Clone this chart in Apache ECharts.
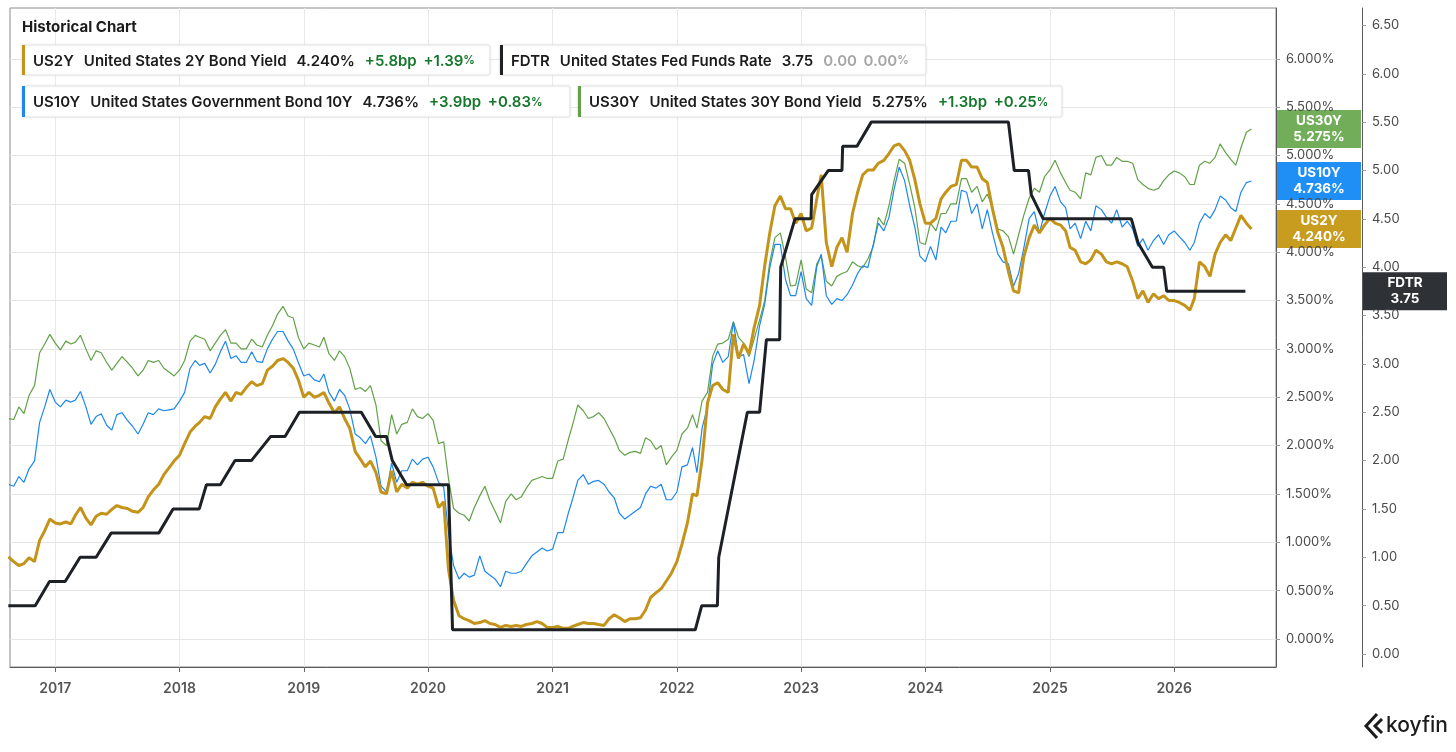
<!DOCTYPE html>
<html>
<head>
<meta charset="utf-8">
<script src="https://cdn.jsdelivr.net/npm/echarts@6/dist/echarts.min.js"></script>
<style>
html,body{margin:0;padding:0;background:#fff;}
#chart{width:1456px;height:752px;}
</style>
</head>
<body>
<div id="chart"></div>
<script>
// ---- DATA (semi-monthly observations: 16th and 1st of each month, from 2016-08-16) ----
const us2y = [
  0.85,0.80,0.76,0.78,0.84,0.80,1.02,1.12,1.24,
  1.20,1.19,1.21,1.19,1.28,1.36,1.25,1.18,1.27,1.30,1.29,1.34,1.38,1.36,1.35,1.32,1.31,1.36,1.47,1.54,1.60,1.70,1.77,1.84,
  1.90,2.02,2.14,2.20,2.24,2.30,2.28,2.40,2.48,2.55,2.46,2.55,2.53,2.60,2.66,2.62,2.64,2.78,2.82,2.88,2.90,2.86,2.80,2.68,
  2.50,2.55,2.50,2.52,2.55,2.44,2.34,2.40,2.28,2.18,1.94,1.86,1.78,1.84,1.72,1.52,1.50,1.74,1.52,1.60,1.56,1.62,1.60,1.62,
  1.58,1.56,1.36,1.42,0.72,0.40,0.24,0.21,0.19,0.16,0.17,0.19,0.16,0.15,0.12,0.14,0.13,0.14,0.13,0.15,0.16,0.18,0.16,0.12,
  0.12,0.13,0.11,0.11,0.13,0.15,0.17,0.16,0.16,0.15,0.14,0.21,0.25,0.22,0.18,0.21,0.21,0.22,0.30,0.43,0.48,0.52,0.60,0.68,
  0.80,0.98,1.20,1.50,1.48,1.85,2.44,2.62,2.65,2.58,2.55,3.15,2.90,3.05,2.95,3.22,3.45,3.86,4.20,4.48,4.58,4.45,4.45,4.30,
  4.40,4.22,4.25,4.55,4.80,4.10,3.85,4.05,4.15,4.00,4.40,4.62,4.80,4.85,4.85,4.92,4.95,5.02,5.10,5.12,5.05,4.95,4.75,4.50,
  4.30,4.30,4.35,4.55,4.62,4.68,4.70,4.95,4.95,4.88,4.88,4.76,4.72,4.45,4.20,4.05,3.80,3.60,3.58,3.95,4.15,4.28,4.20,4.28,
  4.35,4.30,4.28,4.22,4.05,4.02,3.90,3.88,3.92,4.02,3.98,3.90,3.88,3.90,3.88,3.85,3.70,3.52,3.60,3.48,3.57,3.52,3.55,3.50,
  3.50,3.48,3.45,3.40,3.52,3.90,3.85,3.75,3.98,4.10,4.18,4.12,4.25,4.38,4.30,4.240
];
const us10y = [
  1.60,1.58,1.68,1.62,1.76,1.84,2.24,2.40,2.58,
  2.45,2.40,2.47,2.45,2.47,2.56,2.40,2.22,2.30,2.33,2.21,2.16,2.32,2.34,2.26,2.20,2.12,2.22,2.34,2.32,2.38,2.36,2.37,2.38,
  2.46,2.55,2.80,2.88,2.83,2.85,2.75,2.84,2.97,3.08,2.90,2.93,2.86,2.86,2.97,2.87,2.86,3.00,3.10,3.18,3.18,3.08,3.00,2.86,
  2.72,2.74,2.68,2.66,2.74,2.55,2.46,2.58,2.52,2.38,2.12,2.08,2.02,2.10,1.88,1.58,1.52,1.82,1.62,1.74,1.74,1.86,1.80,1.86,
  1.88,1.78,1.62,1.57,1.10,0.76,0.62,0.68,0.64,0.66,0.86,0.70,0.66,0.62,0.54,0.70,0.68,0.68,0.70,0.78,0.86,0.90,0.94,0.91,
  0.93,1.10,1.10,1.30,1.45,1.64,1.70,1.60,1.63,1.64,1.60,1.52,1.46,1.30,1.24,1.28,1.32,1.36,1.50,1.58,1.56,1.60,1.44,1.44,
  1.52,1.78,1.80,1.98,1.72,2.18,2.40,2.84,2.98,2.86,2.92,3.28,2.92,2.94,2.64,2.88,3.24,3.46,3.84,4.08,4.08,3.72,3.55,3.55,
  3.80,3.52,3.45,3.85,3.98,3.55,3.46,3.52,3.50,3.56,3.66,3.78,3.86,3.84,4.08,4.30,4.22,4.36,4.65,4.88,4.74,4.48,4.26,3.96,
  3.90,4.06,3.92,4.26,4.20,4.32,4.32,4.64,4.62,4.40,4.50,4.24,4.44,4.20,3.98,3.90,3.88,3.65,3.78,4.04,4.35,4.42,4.20,4.40,
  4.58,4.68,4.52,4.46,4.24,4.30,4.14,4.32,4.22,4.48,4.44,4.36,4.30,4.44,4.26,4.32,4.24,4.06,4.14,4.02,4.12,4.18,4.08,4.18,
  4.22,4.16,4.10,4.02,4.10,4.30,4.40,4.35,4.44,4.58,4.54,4.46,4.42,4.62,4.72,4.736
];
const us30y = [
  2.28,2.27,2.40,2.33,2.52,2.62,2.96,3.05,3.15,
  3.06,2.99,3.08,3.05,3.07,3.14,3.00,2.88,2.98,2.96,2.86,2.78,2.85,2.92,2.86,2.80,2.72,2.78,2.88,2.86,2.88,2.80,2.76,2.72,
  2.78,2.88,3.08,3.14,3.12,3.10,2.98,3.06,3.14,3.20,3.06,3.06,3.00,3.00,3.10,3.04,3.02,3.14,3.24,3.36,3.44,3.34,3.32,3.12,
  3.00,3.06,3.04,3.02,3.12,2.95,2.88,2.98,2.92,2.80,2.58,2.60,2.56,2.62,2.42,2.05,2.00,2.32,2.12,2.22,2.24,2.38,2.30,2.28,
  2.33,2.26,2.02,2.04,1.66,1.35,1.30,1.28,1.22,1.36,1.48,1.58,1.43,1.32,1.20,1.42,1.50,1.44,1.47,1.56,1.64,1.66,1.68,1.66,
  1.66,1.84,1.86,2.06,2.22,2.42,2.36,2.28,2.30,2.34,2.28,2.18,2.08,1.95,1.90,1.93,1.94,1.92,2.08,2.05,1.96,2.00,1.80,1.88,
  1.95,2.12,2.18,2.32,2.18,2.46,2.55,2.92,3.05,3.06,3.10,3.28,3.12,3.06,2.92,3.10,3.30,3.50,3.90,4.15,4.20,3.95,3.65,3.66,
  3.92,3.62,3.58,3.88,3.96,3.70,3.65,3.75,3.78,3.80,3.90,3.86,3.84,3.93,4.06,4.36,4.28,4.48,4.74,4.96,4.92,4.70,4.46,4.10,
  4.08,4.30,4.22,4.40,4.40,4.50,4.50,4.76,4.76,4.62,4.68,4.52,4.60,4.46,4.24,4.22,4.16,3.98,4.18,4.38,4.56,4.66,4.62,4.78,
  4.85,4.95,4.82,4.72,4.64,4.62,4.55,4.82,4.80,4.98,5.00,4.90,4.90,4.98,4.94,4.94,4.92,4.75,4.70,4.66,4.64,4.66,4.74,4.80,
  4.84,4.82,4.78,4.70,4.70,4.90,4.94,4.92,4.98,5.12,5.03,4.96,4.90,5.08,5.24,5.275
];
// Fed funds (upper bound) change points
const fdtrDates = [
  '2016-08-16','2016-11-03','2016-12-15','2017-01-30','2017-03-15','2017-05-01','2017-06-14',
  '2017-11-01','2017-12-13','2018-02-28','2018-03-21','2018-05-01','2018-06-13','2018-07-31',
  '2018-09-26','2018-11-07','2018-12-19','2019-06-19','2019-07-31','2019-09-01','2019-09-18',
  '2019-10-30','2020-03-01','2020-03-13','2022-02-24','2022-03-15','2022-04-30','2022-05-04',
  '2022-07-27','2022-09-01','2022-09-21','2022-10-30','2022-11-02','2022-12-14','2023-01-30',
  '2023-02-01','2023-03-22','2023-05-01','2023-05-03','2023-06-14','2023-07-26','2024-09-01',
  '2024-09-18','2024-10-30','2024-11-07','2024-12-12','2025-08-28','2025-09-17','2025-10-29',
  '2025-12-01','2025-12-10','2026-07-29'
];
const fdtrValues = [
  0.50,0.50,0.75,0.75,1.00,1.00,1.25,
  1.25,1.50,1.50,1.75,1.75,2.00,2.00,
  2.25,2.25,2.50,2.50,2.25,2.25,2.00,
  1.75,1.75,0.25,0.25,0.50,0.50,1.00,
  2.50,2.50,3.25,3.25,4.00,4.50,4.50,
  4.75,5.00,5.00,5.25,5.25,5.50,5.50,
  5.00,5.00,4.75,4.50,4.50,4.25,4.00,
  4.00,3.75,3.75
];
const yearLabels = ['2017','2018','2019','2020','2021','2022','2023','2024','2025','2026'];
const pctTicks = [0,0.5,1,1.5,2,2.5,3,3.5,4,4.5,5,5.5,6];
const fdtrTicks = [0,0.5,1,1.5,2,2.5,3,3.5,4,4.5,5,5.5,6,6.5];

const seriesInfo = [
  {code:'US2Y', name:'United States 2Y Bond Yield', chg:'+5.8bp', pct:'+1.39'},
  {code:'FDTR', name:'United States Fed Funds Rate', chg:'0.00', pct:'0.00'},
  {code:'US10Y', name:'United States Government Bond 10Y', chg:'+3.9bp', pct:'+0.83'},
  {code:'US30Y', name:'United States 30Y Bond Yield', chg:'+1.3bp', pct:'+0.25'}
];

// ---- build ----
const ts = (s) => { const p = s.split('-').map(Number); return new Date(p[0], p[1]-1, p[2]).getTime(); };
const dates = [];
(function(){ let y=2016,m=8,d=16;
  while(dates.length < us2y.length){
    dates.push(y+'-'+String(m).padStart(2,'0')+'-'+String(d).padStart(2,'0'));
    if(d===1){d=16;} else {d=1;m++; if(m>12){m=1;y++;}}
  }})();
const zip = (ds, vs) => vs.map((v,i)=>[ts(ds[i]), v]);
const yearTicks = yearLabels.map(y => new Date(+y,0,1).getTime());

const C = {
  us2y:'#c39419', us2yBox:'#c89c1f',
  us10y:'#1d87ee', us10yBox:'#1f8ff5',
  us30y:'#62a148', us30yBox:'#72ae5a',
  fdtr:'#1d2126', fdtrBox:'#2e3136'
};
const FONT = 'Inter, "Noto Sans", Roboto, sans-serif';

const chart = echarts.init(document.getElementById('chart'), null, {renderer:'canvas'});

function legendBox(id, x, y, w, h, color, info, valueText, grey){
  const gc = grey ? '#a6a6a6' : '#15772b';
  const gStyle = {fill:gc, fontSize:15, fontWeight:600, fontFamily:FONT};
  const gsStyle = {fill:gc, fontSize:11.5, fontWeight:600, fontFamily:FONT};
  return {
    type:'group', id:id, x:x, y:y,
    children:[
      {type:'rect', shape:{x:0,y:0,width:w,height:h,r:2},
       style:{fill:'#fff', stroke:'#e4e4e4', lineWidth:1, shadowBlur:3, shadowColor:'rgba(0,0,0,0.08)'}},
      {type:'rect', shape:{x:0,y:0,width:3,height:h}, style:{fill:color}},
      {type:'text', x:11, y:h/2+1,
       style:{text:'{n|'+info.code+'}   {n|'+info.name+'}   {n|'+valueText+'}   {g|'+info.chg+'}  {g|'+info.pct+'}{gs|%}',
              verticalAlign:'middle', align:'left',
              rich:{n:{fill:'#1c1c1c', fontSize:15, fontWeight:600, fontFamily:FONT}, g:gStyle, gs:gsStyle}}}
    ]
  };
}

const last = a => a[a.length-1];

const option = {
  animation:false,
  backgroundColor:'#ffffff',
  textStyle:{fontFamily:FONT},
  grid:{left:10, right:180, top:8, bottom:85, show:true, borderColor:'#8c8c8c', borderWidth:1, backgroundColor:'transparent'},
  xAxis:{
    type:'value', min:ts('2016-08-21'), max:ts('2026-10-27'), scale:true,
    axisLine:{show:true, onZero:false, lineStyle:{color:'#5a5a5a', width:1}},
    axisTick:{show:true, length:5, customValues:yearTicks, lineStyle:{color:'#666'}},
    axisLabel:{customValues:yearTicks, formatter:(v)=>String(new Date(v).getFullYear()),
               color:'#555', fontSize:14, fontWeight:600, margin:15, fontFamily:FONT},
    splitLine:{show:true, lineStyle:{color:'#e9e9e9', width:1}}
  },
  yAxis:[
    {type:'value', position:'right', min:-0.2896, max:6.525,
     axisLine:{show:true, onZero:false, lineStyle:{color:'#5a5a5a'}},
     axisTick:{show:true, length:4, customValues:pctTicks, lineStyle:{color:'#9a9a9a'}},
     axisLabel:{customValues:pctTicks, formatter:(v)=>v.toFixed(3)+'%', color:'#4a4a4a', fontSize:13, margin:10, fontFamily:FONT},
     splitLine:{show:true, lineStyle:{color:'#e6e6e6', width:1}}},
    {type:'value', position:'right', offset:86, min:-0.1344, max:6.68,
     axisLine:{show:true, onZero:false, lineStyle:{color:'#5a5a5a'}},
     axisTick:{show:true, length:4, customValues:fdtrTicks, lineStyle:{color:'#9a9a9a'}},
     axisLabel:{customValues:fdtrTicks, formatter:(v)=>v.toFixed(2), color:'#4a4a4a', fontSize:13, margin:10, fontFamily:FONT},
     splitLine:{show:false}}
  ],
  series:[
    {name:'US30Y', type:'line', yAxisIndex:0, data:zip(dates, us30y), showSymbol:false, symbol:'none',
     lineStyle:{color:C.us30y, width:1.2}, z:2},
    {name:'US10Y', type:'line', yAxisIndex:0, data:zip(dates, us10y), showSymbol:false, symbol:'none',
     lineStyle:{color:C.us10y, width:1.2}, z:3},
    {name:'US2Y', type:'line', yAxisIndex:0, data:zip(dates, us2y), showSymbol:false, symbol:'none',
     lineStyle:{color:C.us2y, width:3}, z:4},
    {name:'FDTR', type:'line', yAxisIndex:1, data:zip(fdtrDates, fdtrValues), showSymbol:false, symbol:'none',
     lineStyle:{color:C.fdtr, width:3}, z:5}
  ]
};
chart.setOption(option);

// value badges on the axes, positioned through the axis scales
function badge(id, axisIdx, value, label, valueText, color, x, w){
  const y = chart.convertToPixel({yAxisIndex:axisIdx}, value);
  return {type:'group', id:id, x:x, y:y-19, z:100, children:[
    {type:'rect', shape:{x:0,y:0,width:w,height:38}, style:{fill:color}},
    {type:'text', x:w/2, y:19, style:{text:label+'\n'+valueText, fill:'#fff', fontSize:13.5, fontWeight:700,
      lineHeight:16, align:'center', verticalAlign:'middle', fontFamily:FONT}}
  ]};
}
const graphics = [
  {type:'text', id:'title', x:22, y:27, style:{text:'Historical Chart', fontSize:15, fontWeight:700, fill:'#1c1c1c', fontFamily:FONT, verticalAlign:'middle'}},
  legendBox('lg1', 22, 45, 468, 30, C.us2y, seriesInfo[0], last(us2y).toFixed(3)+'%', false),
  legendBox('lg2', 500, 45, 426, 30, C.fdtr, seriesInfo[1], last(fdtrValues).toFixed(2), true),
  legendBox('lg3', 22, 86, 548, 31, C.us10y, seriesInfo[2], last(us10y).toFixed(3)+'%', false),
  legendBox('lg4', 578, 86, 484, 31, C.us30y, seriesInfo[3], last(us30y).toFixed(3)+'%', false),
  {type:'group', id:'logo', x:1364, y:714, children:[
    {type:'polyline', shape:{points:[[13,0],[2,12],[13,24]]}, style:{stroke:'#1c1c1c', lineWidth:3, fill:null, lineJoin:'miter'}},
    {type:'polyline', shape:{points:[[18,5],[11,12],[18,19]]}, style:{stroke:'#1c1c1c', lineWidth:3, fill:null, lineJoin:'miter'}},
    {type:'text', x:22, y:12, style:{text:'koyfin', fontSize:21, fontWeight:500, fill:'#1c1c1c', fontFamily:FONT, verticalAlign:'middle'}}
  ]},
  badge('b30', 0, last(us30y), 'US30Y', last(us30y).toFixed(3)+'%', C.us30yBox, 1277, 84),
  badge('b10', 0, last(us10y), 'US10Y', last(us10y).toFixed(3)+'%', C.us10yBox, 1277, 84),
  badge('b2', 0, last(us2y), 'US2Y', last(us2y).toFixed(3)+'%', C.us2yBox, 1277, 84),
  badge('bf', 1, last(fdtrValues), 'FDTR', last(fdtrValues).toFixed(2), C.fdtrBox, 1363, 84)
];
chart.setOption({graphic: graphics});
</script>
</body>
</html>
